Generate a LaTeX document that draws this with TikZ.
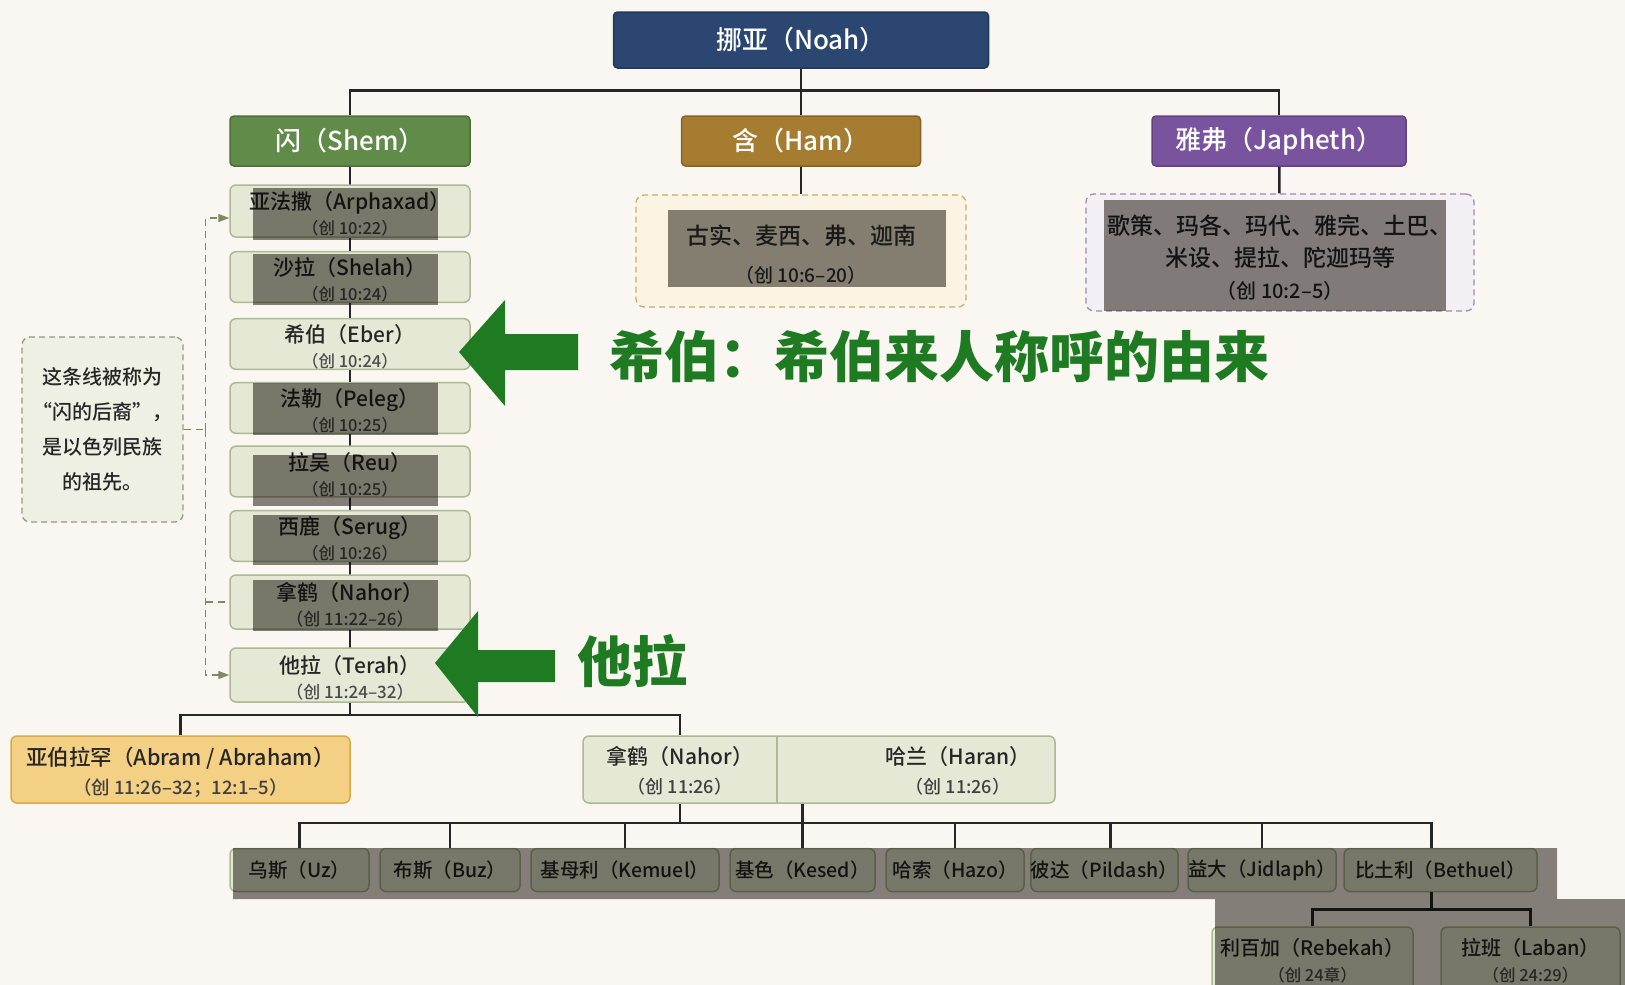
\documentclass[tikz,border=0pt]{standalone}
\usepackage{fontspec}
\setmainfont{Noto Sans CJK SC}[UprightFont={* Medium}]
\usetikzlibrary{arrows.meta,positioning}
\definecolor{bgcream}{HTML}{FAF7F3}
\definecolor{noahblue}{HTML}{2B4670}
\definecolor{shemgreen}{HTML}{608B48}
\definecolor{hambrown}{HTML}{A67D30}
\definecolor{japurple}{HTML}{7A539F}
\definecolor{boxgreen}{HTML}{E4E8D5}
\definecolor{boxline}{HTML}{AEB893}
\definecolor{notefill}{HTML}{EEF0E4}
\definecolor{noteline}{HTML}{8F9A80}
\definecolor{hamfill}{HTML}{FBF4E4}
\definecolor{hamline}{HTML}{C9AC66}
\definecolor{japfill}{HTML}{F4EEF5}
\definecolor{japline}{HTML}{9C8CAA}
\definecolor{abramfill}{HTML}{F3D084}
\definecolor{abramline}{HTML}{D8A849}
\definecolor{arrowgreen}{HTML}{1E7B22}
\definecolor{lineolive}{HTML}{7E8A66}
\definecolor{ovgray}{HTML}{86847E}
\newcommand{\versetext}[1]{{\fontsize{16.5}{18}\selectfont\color{black!70}#1}}
\newcommand{\topstrut}{\rule{0pt}{24pt}}
\tikzset{
  titlebox/.style={rectangle, rounded corners=4, line width=1.5, text=white,
    minimum height=50, inner sep=0, font=\fontsize{26}{30}\selectfont},
  linebox/.style={rectangle, rounded corners=6, fill=boxgreen, draw=boxline,
    line width=1.5, minimum width=240, minimum height=50, inner sep=0,
    align=center, text=black!85, font=\fontsize{21}{25}\selectfont},
  sonbox/.style={linebox, minimum height=43, font=\fontsize{19.5}{23}\selectfont},
  tree/.style={line width=2.5, black!85},
  lineage/.style={line width=1.3, lineolive, dash pattern=on 7 off 5},
  shade/.style={fill=ovgray, blend mode=multiply},
  bigarrow/.style={fill=arrowgreen},
  bigtext/.style={text=arrowgreen, anchor=west, inner sep=0,
    font=\fontsize{55}{60}\selectfont\bfseries}
}
\begin{document}
\begin{tikzpicture}[x=1pt,y=-1pt]
\fill[bgcream] (0,0) rectangle (1625,985);
\useasboundingbox (0,0) rectangle (1625,985);

\node[titlebox, fill=noahblue, draw=noahblue!80!black, minimum width=375, minimum height=56] (noah) at (801,40) {挪亚（Noah）};
\node[titlebox, fill=shemgreen, draw=shemgreen!80!black, minimum width=240] (shem) at (350,141) {闪（Shem）};
\node[titlebox, fill=hambrown, draw=hambrown!80!black, minimum width=239] (ham) at (801,141) {含（Ham）};
\node[titlebox, fill=japurple, draw=japurple!80!black, minimum width=254] (japheth) at (1279,141) {雅弗（Japheth）};

\node[rectangle, rounded corners=8, fill=hamfill, draw=hamline, line width=1.3, dash pattern=on 6 off 4,
  minimum width=330, minimum height=112, align=center, text=black!80, font=\fontsize{23}{38}\selectfont] (hamkids) at (801,251)
  {\rule{0pt}{26pt}古实、麦西、弗、迦南\\{\fontsize{19}{22}\selectfont（创 10:6–20）}};
\node[rectangle, rounded corners=8, fill=japfill, draw=japline, line width=1.3, dash pattern=on 6 off 4,
  minimum width=388, minimum height=117, align=center, text=black!85, font=\fontsize{23}{32}\selectfont] (japkids) at (1280,252.5)
  {\rule{0pt}{30pt}歌策、玛各、玛代、雅完、土巴、\\米设、提拉、陀迦玛等\\{\fontsize{20}{22}\selectfont（创 10:2–5）}};

\draw[tree] (noah) -- (ham);
\draw[tree] (shem.north) -- ++(0,-25) -| (japheth.north);
\draw[tree] (ham) -- (hamkids);
\draw[tree] (japheth) -- (japkids);

\draw[tree] (shem) -- (350,675);
\node[linebox, minimum height=52] (arph) at (350,211) {\topstrut 亚法撒（Arphaxad）\\\versetext{（创 10:22）}};
\node[linebox] (shelah) at (350,277) {\topstrut 沙拉（Shelah）\\\versetext{（创 10:24）}};
\node[linebox] (eber) at (350,344) {\topstrut 希伯（Eber）\\\versetext{（创 10:24）}};
\node[linebox] (peleg) at (350,408) {\topstrut 法勒（Peleg）\\\versetext{（创 10:25）}};
\node[linebox, minimum height=49] (reu) at (350,471.5) {\topstrut 拉吴（Reu）\\\versetext{（创 10:25）}};
\node[linebox] (serug) at (350,536) {\topstrut 西鹿（Serug）\\\versetext{（创 10:26）}};
\node[linebox, minimum height=54] (nahor) at (350,602) {\topstrut 拿鹤（Nahor）\\{\fontsize{17}{18}\selectfont\color{black!70}（创 11:22–26）}};
\node[linebox, minimum height=54] (terah) at (350,675) {\topstrut 他拉（Terah）\\{\fontsize{17}{18}\selectfont\color{black!70}（创 11:24–32）}};

\node[rectangle, rounded corners=8, fill=notefill, draw=noteline, line width=1.3, dash pattern=on 6 off 4,
  minimum width=161, minimum height=185, align=center, text=black!85, font=\fontsize{20}{35}\selectfont] (note) at (102.5,429.5)
  {这条线被称为\\“闪的后裔”，\\是以色列民族\\的祖先。};
\draw[lineage] (note.east) -- ++(22,0) coordinate (brk);
\draw[lineage, -{Triangle[length=11,width=8]}] (brk) |- ([yshift=-7]arph.west);
\draw[lineage, -{Triangle[length=11,width=8]}] (brk) |- (terah.west);
\draw[lineage] (brk |- nahor.west) -- (nahor.west);

\node[linebox, fill=abramfill, draw=abramline, minimum width=339, minimum height=67, font=\fontsize{21.5}{29}\selectfont] (abram) at (180.5,769.5)
  {\topstrut 亚伯拉罕（Abram / Abraham）\\{\fontsize{18.5}{20}\selectfont\color{black!75}（创 11:26–32；12:1–5）}};
\node[linebox, minimum width=472, minimum height=67] (nh) at (819,769.5) {};
\draw[boxline, line width=1.5] (777,736) -- (777,803);
\node[align=center, text=black!85, font=\fontsize{21}{29}\selectfont] (nahorb) at (680,771)
  {拿鹤（Nahor）\\{\fontsize{18}{20}\selectfont\color{black!75}（创 11:26）}};
\node[align=center, text=black!85, font=\fontsize{21}{29}\selectfont] (haran) at (958,771)
  {哈兰（Haran）\\{\fontsize{18}{20}\selectfont\color{black!75}（创 11:26）}};
\draw[tree] (terah) -- (350,715) coordinate (tsplit);
\draw[tree] (abram.north) |- (tsplit) -| (nahorb |- nh.north);

\node[sonbox, minimum width=139] (uz) at (299.5,870) {乌斯（Uz）};
\node[sonbox, minimum width=140] (buz) at (450,870) {布斯（Buz）};
\node[sonbox, minimum width=188] (kemuel) at (625,870) {基母利（Kemuel）};
\node[sonbox, minimum width=145] (kesed) at (802.5,870) {基色（Kesed）};
\node[sonbox, minimum width=138] (hazo) at (955,870) {哈索（Hazo）};
\node[sonbox, minimum width=141] (pildash) at (1104.5,870) {彼达（Pildash）};
\node[sonbox, minimum width=144] (jidlaph) at (1262,870) {益大（Jidlaph）};
\node[sonbox, minimum width=193] (bethuel) at (1440.5,870) {比土利（Bethuel）};
\draw[tree] (uz.north) -- ++(0,-25) -| ([xshift=-9]bethuel.north);
\foreach \s in {buz,kemuel,hazo,jidlaph}
  \draw[tree] (\s.north) -- ++(0,-25);
\draw[tree] ([xshift=6]pildash.north) -- ++(0,-25);
\draw[tree] (nh.south -| nahorb) -- ++(0,20);
\draw[tree] (nh.south -| kesed) -- (kesed.north);

\node[linebox, minimum width=201, minimum height=67, font=\fontsize{20}{26}\selectfont] (rebekah) at (1312.5,960.5)
  {利百加（Rebekah）\\\versetext{（创 24章）}};
\node[linebox, minimum width=179, minimum height=67, font=\fontsize{20}{26}\selectfont] (laban) at (1530.5,960.5)
  {拉班（Laban）\\\versetext{（创 24:29）}};
\draw[tree] ([xshift=-9]bethuel.south) -- ++(0,18);
\draw[tree] (rebekah.north) -- ++(0,-17) -| (laban.north);

\fill[shade] (253,188) rectangle (438,240);
\fill[shade] (253,254) rectangle (438,305);
\fill[shade] (253,383) rectangle (438,435);
\fill[shade] (253,455) rectangle (438,506);
\fill[shade] (253,515) rectangle (438,565);
\fill[shade] (253,580) rectangle (438,631);
\fill[shade] (668,210) rectangle (946,287);
\fill[shade] (1104,200) rectangle (1446,311);
\fill[shade] (233,848) -- (1557,848) -- (1557,899) -- (1625,899) -- (1625,985) -- (1215,985) -- (1215,899) -- (233,899) -- cycle;

\fill[bigarrow] (459,352) -- ++(46,-52) -- ++(0,34) -- ++(73,0) -- ++(0,36) -- ++(-73,0) -- ++(0,36) -- cycle;
\node[bigtext] (ebernote) at (609,356) {希伯：希伯来人称呼的由来};
\fill[bigarrow] (435,663) -- ++(43,-52) -- ++(0,39) -- ++(77,0) -- ++(0,32) -- ++(-77,0) -- ++(0,35) -- cycle;
\node[bigtext] (terahnote) at (577,661) {他拉};
\end{tikzpicture}
\end{document}
